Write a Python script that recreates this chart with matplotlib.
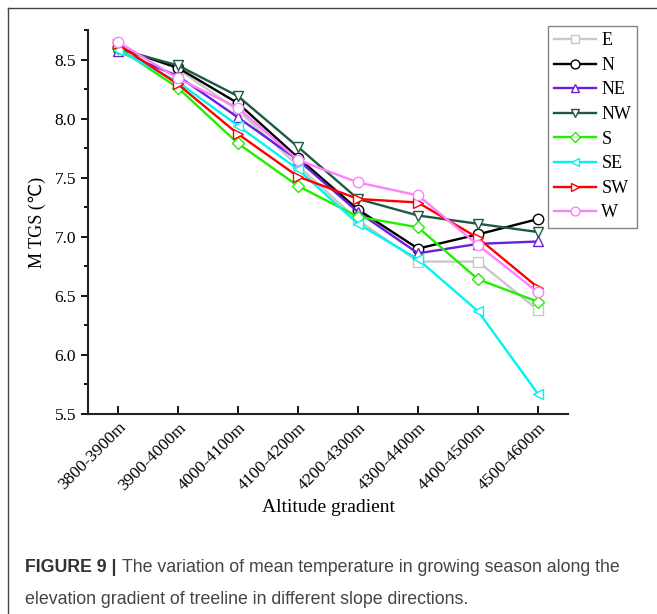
import matplotlib
matplotlib.use("Agg")
import matplotlib.pyplot as plt
from matplotlib.lines import Line2D

# altitude bands on the x axis
bands = ["3800-3900m", "3900-4000m", "4000-4100m", "4100-4200m",
         "4200-4300m", "4300-4400m", "4400-4500m", "4500-4600m"]

# mean temperature in growing season (MTGS, deg C) per slope direction
E = [8.61, 8.42, 8.07, 7.60, 7.14, 6.79, 6.79, 6.38]
N = [8.60, 8.43, 8.13, 7.67, 7.23, 6.90, 7.02, 7.15]
NE = [8.57, 8.36, 8.01, 7.65, 7.21, 6.86, 6.94, 6.96]
NW = [8.59, 8.45, 8.19, 7.76, 7.32, 7.18, 7.11, 7.04]
S = [8.60, 8.26, 7.79, 7.43, 7.17, 7.08, 6.64, 6.45]
SE = [8.58, 8.31, 7.94, 7.57, 7.11, 6.81, 6.37, 5.67]
SW = [8.63, 8.29, 7.87, 7.51, 7.32, 7.29, 6.99, 6.57]
W = [8.65, 8.34, 8.09, 7.65, 7.46, 7.35, 6.93, 6.53]

series = [("E", E, "#c8c8c8", "s"),
          ("N", N, "#000000", "o"),
          ("NE", NE, "#6a1fd8", "^"),
          ("NW", NW, "#1d5a45", "v"),
          ("S", S, "#22ee00", "D"),
          ("SE", SE, "#00f4f4", "<"),
          ("SW", SW, "#ff0000", ">"),
          ("W", W, "#ff80ff", "o")]

serif = "Liberation Serif"

fig = plt.figure(figsize=(6.57, 6.14), dpi=100)
ax = fig.add_axes([88 / 657, 1 - 414 / 614, 480 / 657, 384 / 614])

x = list(range(len(bands)))
for name, vals, col, mk in series:
    ms = 6 if mk == "D" else 7.5
    ax.plot(x, vals, color=col, lw=1.7, marker=mk, ms=ms,
            mfc="white", mec=col, mew=1.0, label=name)

ax.set_xlim(-0.5, 7.5)
ax.set_ylim(5.5, 8.75)
ax.set_yticks([5.5, 6.0, 6.5, 7.0, 7.5, 8.0, 8.5])
ax.set_yticks([5.75, 6.25, 6.75, 7.25, 7.75, 8.25, 8.75], minor=True)
ax.set_xticks(x)
ax.set_xticklabels(bands, rotation=45, ha="right", rotation_mode="anchor",
                   fontfamily=serif, fontsize=12.5)
for lab in ax.get_yticklabels():
    lab.set_fontfamily(serif)
    lab.set_fontsize(12.5)

ax.spines["top"].set_visible(False)
ax.spines["right"].set_visible(False)
ax.spines["left"].set_linewidth(1.5)
ax.spines["bottom"].set_linewidth(1.5)
ax.spines["left"].set_color("#222222")
ax.spines["bottom"].set_color("#222222")
ax.tick_params(axis="y", which="major", direction="out", length=5, width=1.3)
ax.tick_params(axis="y", which="minor", direction="out", length=3, width=1.3)
ax.tick_params(axis="x", direction="in", length=6, width=1.3, pad=4)

ax.set_xlabel("Altitude gradient", fontfamily=serif, fontsize=14, labelpad=4)
ax.set_ylabel("M TGS (℃)", fontfamily=[serif, "DejaVu Sans"], fontsize=13,
              labelpad=6)

leg = ax.legend(loc="upper left", bbox_to_anchor=(548 / 657, 1 - 26 / 614),
                bbox_transform=fig.transFigure, prop={"family": serif, "size": 13},
                frameon=True, fancybox=False, edgecolor="#666666",
                handlelength=2.3, handletextpad=0.3, labelspacing=0.42,
                borderpad=0.35, borderaxespad=0, markerscale=0.85)
leg.get_frame().set_linewidth(1.0)

# outer frame of the figure panel (left and top edges only)
fig.add_artist(Line2D([8 / 657, 8 / 657], [0, 1 - 8 / 614],
                      transform=fig.transFigure, color="#444444", lw=1.0))
fig.add_artist(Line2D([8 / 657, 1], [1 - 8 / 614, 1 - 8 / 614],
                      transform=fig.transFigure, color="#444444", lw=1.0))

# caption
cap_x = 25 / 657
t1 = fig.text(cap_x, 1 - 572 / 614, "FIGURE 9 |", fontfamily="Liberation Sans",
              fontweight="bold", fontsize=12.8, color="#333333")
fig.canvas.draw()
bb = t1.get_window_extent()
fig.text((bb.x1 + 5) / 657, 1 - 572 / 614,
         "The variation of mean temperature in growing season along the",
         fontfamily="Liberation Sans", fontsize=12.8, color="#444444")
fig.text(cap_x, 1 - 604 / 614,
         "elevation gradient of treeline in different slope directions.",
         fontfamily="Liberation Sans", fontsize=12.8, color="#444444")

fig.savefig("out.png", dpi=100)
plt.close(fig)
